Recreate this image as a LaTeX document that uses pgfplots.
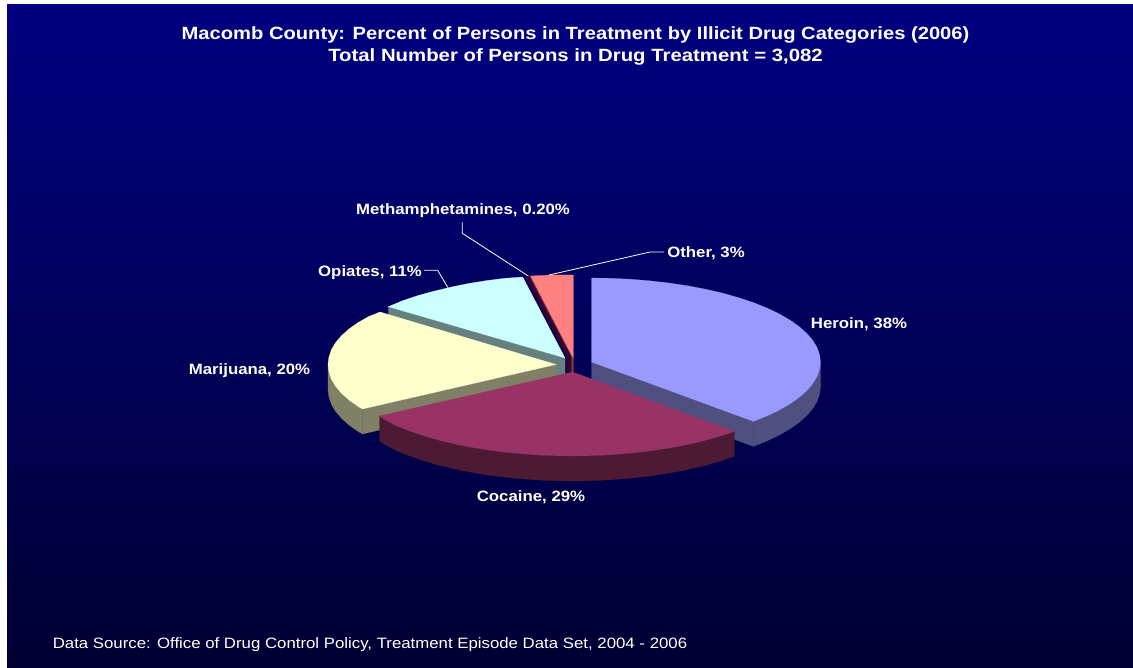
\documentclass[border=0pt]{standalone}
\usepackage{graphicx}
\usepackage{pgfplots}
\pgfplotsset{compat=1.18}
\usepackage{fontspec}
\setmainfont{Liberation Sans}
\definecolor{bgtop}{HTML}{000080}
\definecolor{bgbot}{HTML}{000033}
\definecolor{heroin}{HTML}{9999FF}
\definecolor{heroinw}{HTML}{4F4F80}
\definecolor{cocaine}{HTML}{993366}
\definecolor{cocainew}{HTML}{4D1A33}
\definecolor{marij}{HTML}{FFFFCC}
\definecolor{marijw}{HTML}{808066}
\definecolor{opiate}{HTML}{CCFFFF}
\definecolor{opiatew}{HTML}{668080}
\definecolor{other}{HTML}{FF8080}
\definecolor{otherw}{HTML}{804040}
\definecolor{meth}{HTML}{330033}
\newcommand{\lab}[3]{\node[text=white,inner sep=0pt,anchor=center,font=\fontsize{15}{18}\selectfont\bfseries] at (axis cs:#1,#2) {\scalebox{1.12}[1]{#3}};}
\begin{document}
\begin{tikzpicture}
\begin{axis}[
  scale only axis, width=1133pt, height=668pt,
  xmin=0, xmax=1133, ymin=0, ymax=668, y dir=reverse,
  hide axis, clip=true,
]
\path[fill=white] (axis cs:0,0) rectangle (axis cs:1133,668);
\path[top color=bgtop,bottom color=bgbot] (axis cs:7,5) rectangle (axis cs:1133,668);

% Opiates
\addplot[fill=opiatew,draw=opiatew,line width=0.2pt] coordinates {(388.3,306.7)(565,358)(565,383)(388.3,331.7)} --cycle;
\addplot[fill=opiate,draw=opiate,line width=0.2pt] coordinates {(565,358)(522.7,277)(505,278.3)(486.7,280.6)(468,283.6)(450.5,287.2)(433.5,291.3)(417.8,295.6)(403,300.6)(388.3,306.7)} --cycle;
% Methamphetamines sliver
\addplot[fill=meth,draw=meth,line width=0.2pt] coordinates {(525,277)(529.5,276)(573,358)(573,372)(566.5,372)(566.5,357)} --cycle;
% Other
\addplot[fill=otherw,draw=otherw,line width=0.2pt] coordinates {(529.3,276)(573.3,358.3)(573.3,372)(571.5,372)(571.5,356)} --cycle;
\addplot[fill=other,draw=other,line width=0.2pt] coordinates {(573.3,358.3)(530.5,276)(551,275)(573.3,275)} --cycle;
% Heroin
\addplot[fill=heroinw,draw=heroinw,line width=0.2pt] coordinates {(591.5,362)(753.4,421.4)(753.4,446.4)(591.5,387)} --cycle;
\addplot[fill=heroinw,draw=heroinw,line width=0.2pt] coordinates {(820.5,362)(819.6,369.3)(817,376.6)(812.7,383.7)(806.7,390.7)(799,397.5)(789.8,404)(779.1,410.2)(766.9,416)(753.4,421.4)(753.4,446.4)(766.9,441)(779.1,435.2)(789.8,429)(799,422.5)(806.7,415.7)(812.7,408.7)(817,401.6)(819.6,394.3)(820.5,387)} --cycle;
\addplot[fill=heroin,draw=heroin,line width=0.2pt] coordinates {(591.5,362)(591.5,278)(611.5,278.3)(631.3,279.3)(650.8,280.9)(669.8,283.1)(688.3,285.9)(706,289.3)(722.9,293.2)(738.7,297.7)(753.4,302.6)(766.9,308)(779.1,313.8)(789.8,320)(799,326.5)(806.7,333.3)(812.7,340.3)(817,347.4)(819.6,354.7)(820.5,362)(819.6,369.3)(817,376.6)(812.7,383.7)(806.7,390.7)(799,397.5)(789.8,404)(779.1,410.2)(766.9,416)(753.4,421.4)} --cycle;
% Marijuana
\addplot[fill=marijw,draw=marijw,line width=0.2pt] coordinates {(362.5,409)(556,364.5)(556,389.5)(362.5,434)} --cycle;
\addplot[fill=marijw,draw=marijw,line width=0.2pt] coordinates {(328,364.5)(328.9,371.8)(331.3,379.1)(335.5,386.2)(341.4,393.2)(349,400)(358.2,406.5)(362.5,409)(362.5,434)(358.2,431.5)(349,425)(341.4,418.2)(335.5,411.2)(331.3,404.1)(328.9,396.8)(328,389.5)} --cycle;
\addplot[fill=marij,draw=marij,line width=0.2pt] coordinates {(556,364.5)(380,312)(368.8,316.5)(358.2,322.5)(349,329)(341.4,335.8)(335.5,342.8)(331.3,349.9)(328.9,357.2)(328,364.5)(328.9,371.8)(331.3,379.1)(335.5,386.2)(341.4,393.2)(349,400)(358.2,406.5)(362.5,409)} --cycle;
% Cocaine
\addplot[fill=cocainew,draw=cocainew,line width=0.2pt] coordinates {(734.4,431.4)(719.7,436.3)(703.9,440.8)(687,444.7)(669.3,448.1)(650.8,450.9)(631.8,453.1)(612.3,454.7)(592.5,455.7)(572.5,456)(552.5,455.7)(532.7,454.7)(513.2,453.1)(494.2,450.9)(475.7,448.1)(458,444.7)(441.1,440.8)(425.3,436.3)(410.6,431.4)(397.1,426)(385.5,420)(379.5,416)(379.5,441)(385.5,445)(397.1,451)(410.6,456.4)(425.3,461.3)(441.1,465.8)(458,469.7)(475.7,473.1)(494.2,475.9)(513.2,478.1)(532.7,479.7)(552.5,480.7)(572.5,481)(592.5,480.7)(612.3,479.7)(631.8,478.1)(650.8,475.9)(669.3,473.1)(687,469.7)(703.9,465.8)(719.7,461.3)(734.4,456.4)} --cycle;
\addplot[fill=cocaine,draw=cocaine,line width=0.2pt] coordinates {(572.5,372)(734.4,431.4)(719.7,436.3)(703.9,440.8)(687,444.7)(669.3,448.1)(650.8,450.9)(631.8,453.1)(612.3,454.7)(592.5,455.7)(572.5,456)(552.5,455.7)(532.7,454.7)(513.2,453.1)(494.2,450.9)(475.7,448.1)(458,444.7)(441.1,440.8)(425.3,436.3)(410.6,431.4)(397.1,426)(385.5,420)(379.5,416)} --cycle;
% Leaders
\addplot[white,line width=0.8pt] coordinates {(462.3,222.3)(462.3,233.3)(528.3,276)};
\addplot[white,line width=0.8pt] coordinates {(549,275)(650,252)(664,252)};
\addplot[white,line width=0.8pt] coordinates {(424,270.3)(437.7,270.3)(447.7,287.3)};
% Text
\node[text=white,inner sep=0pt,font=\fontsize{17.7}{22}\selectfont\bfseries] at (axis cs:575.5,34.8) {\scalebox{1.14}[1]{Macomb County: Percent of Persons in Treatment by Illicit Drug Categories (2006)}};
\node[text=white,inner sep=0pt,font=\fontsize{17.7}{22}\selectfont\bfseries] at (axis cs:575.5,56.8) {\scalebox{1.15}[1]{Total Number of Persons in Drug Treatment = 3,082}};
\lab{859}{324.7}{Heroin, 38\%}
\lab{531}{497.5}{Cocaine, 29\%}
\lab{249.5}{370.7}{Marijuana, 20\%}
\lab{370}{272.7}{Opiates, 11\%}
\lab{463}{210.7}{Methamphetamines, 0.20\%}
\lab{706}{253.7}{Other, 3\%}
\node[text=white,inner sep=0pt,font=\fontsize{15}{18}\selectfont] at (axis cs:370,644.7) {\scalebox{1.12}[1]{Data Source: Office of Drug Control Policy, Treatment Episode Data Set, 2004 - 2006}};
\end{axis}
\end{tikzpicture}
\end{document}
